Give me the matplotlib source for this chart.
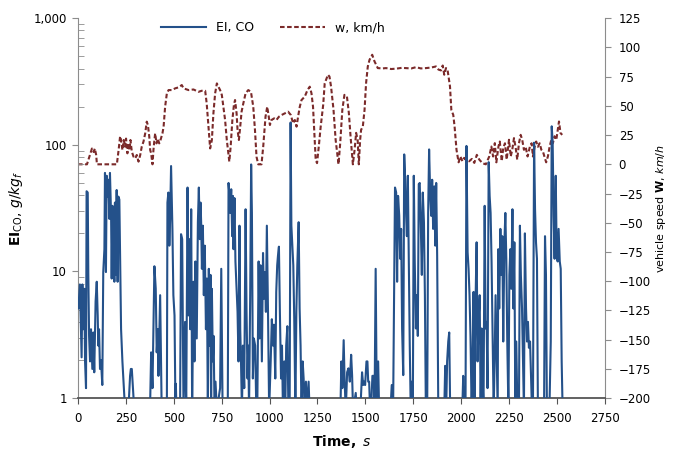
import matplotlib

matplotlib.use("Agg")
import matplotlib.pyplot as plt
from matplotlib.lines import Line2D
from matplotlib.ticker import FixedLocator, FuncFormatter, LogLocator, NullFormatter

# EI of CO, g/kg fuel, as (time s, value); values under 1 sit below the log axis
co_points = [
    (0, 6.0), (2, 5.1), (10, 7.9), (19, 2.1), (23, 7.9), (28, 3.5), (33, 7.3), (37, 1.95),
    (42, 1.2), (45, 43), (51, 42), (54, 9.4), (58, 3.1), (63, 1.95), (68, 3.5), (75, 1.7),
    (80, 3.3), (85, 1.6), (92, 5.8), (98, 8.3), (103, 4.5), (106, 2.6), (110, 3.5), (115, 1.7),
    (120, 2.0), (127, 1.27), (132, 9.9), (138, 15), (141, 60), (146, 9.9), (150, 57), (155, 39),
    (159, 53), (164, 26), (167, 60), (173, 27), (176, 8.8), (180, 33), (185, 18), (190, 8.3),
    (193, 35), (197, 9.4), (202, 44), (207, 8.3), (211, 39), (216, 37), (220, 13), (225, 3.5),
    (232, 1.95), (237, 1.43), (246, 0.8), (263, 0.8), (272, 1.5), (276, 1.7), (281, 1.7),
    (294, 0.8), (376, 0.8), (382, 2.3), (389, 1.2), (399, 11), (406, 7.3), (411, 2.3),
    (417, 3.5), (420, 1.5), (429, 6.5), (437, 0.8),
    (464, 0.8), (467, 35), (472, 42), (477, 16), (481, 26), (486, 68), (493, 21.7), (498, 6.5),
    (504, 4.5), (509, 0.8), (511, 1.3), (514, 0.8), (533, 0.8), (538, 19.7), (544, 18),
    (551, 0.8), (559, 4.0), (565, 0.8), (572, 46), (577, 4.5), (582, 18), (586, 3.5), (591, 31),
    (596, 0.8), (603, 8.3), (608, 1.95), (613, 12), (620, 2.96), (626, 24.5), (631, 46),
    (636, 18), (640, 35), (643, 24.5), (647, 10.5), (652, 23), (657, 6.5), (662, 16), (668, 3.5),
    (673, 8.8), (678, 0.8), (683, 10.5), (688, 2.6), (692, 9.4), (695, 0.8), (699, 7.3),
    (704, 1.95), (708, 3.1), (713, 0.8), (718, 1.35), (725, 0.8), (742, 1.2), (748, 10.5),
    (755, 0.8), (782, 0.8), (786, 50), (791, 39.5), (795, 29), (800, 44.6), (805, 19),
    (809, 39.5), (812, 15), (817, 38), (822, 12), (828, 7.3), (833, 4.8), (838, 1.95),
    (843, 23), (847, 3.5), (851, 1.95), (856, 0.8), (861, 2.6), (868, 1.2), (875, 31),
    (880, 4.8), (885, 1.43), (889, 2.6), (893, 0.8), (899, 6.5), (904, 70), (908, 29),
    (913, 1.43), (918, 2.96), (925, 2.6), (931, 0.8), (936, 0.8), (943, 12), (948, 2.96),
    (953, 11.2), (960, 1.95), (966, 14), (971, 6.1), (976, 9.9), (981, 4.8), (986, 23),
    (992, 4.8), (998, 0.8), (1006, 1.95), (1012, 4.2), (1018, 2.6), (1023, 3.8), (1030, 1.43),
    (1035, 6.9), (1040, 11.2), (1044, 13.3), (1049, 15.7), (1054, 4.8), (1060, 1.43),
    (1065, 2.6), (1070, 0.8), (1077, 1.95), (1082, 0.8), (1087, 2.6), (1093, 3.7), (1098, 0.9),
    (1105, 0.8), (1110, 150), (1114, 23), (1119, 16), (1124, 11.2), (1129, 4.2), (1135, 0.8),
    (1140, 4.8), (1145, 11.2), (1152, 24.5), (1157, 5.1), (1162, 2.6), (1167, 0.8), (1173, 1.95),
    (1178, 1.43), (1183, 0.8), (1190, 1.35), (1197, 0.8), (1204, 1.35), (1209, 0.8),
    (1370, 0.8), (1375, 1.95), (1380, 1.2), (1387, 2.87), (1392, 1.35), (1398, 0.8), (1405, 1.6),
    (1412, 1.72), (1419, 1.35), (1426, 2.2), (1431, 1.52), (1436, 0.8), (1450, 1.1), (1455, 0.8),
    (1474, 0.8), (1483, 1.6), (1489, 1.27), (1494, 1.35), (1499, 1.27), (1506, 1.95),
    (1511, 1.95), (1515, 1.35), (1520, 1.35), (1525, 0.8), (1530, 0.8), (1537, 1.5), (1544, 1.5),
    (1548, 0.8), (1554, 10.5), (1560, 0.8), (1567, 1.95), (1572, 0.8),
    (1631, 0.8), (1638, 1.27), (1645, 0.8), (1655, 46), (1661, 42), (1666, 8.3), (1671, 39.5),
    (1677, 27.5), (1682, 12.6), (1687, 21.7), (1692, 3.55), (1698, 1.52), (1703, 84), (1708, 53),
    (1713, 27.5), (1717, 19), (1722, 57), (1727, 12), (1732, 2.6), (1737, 0.8), (1743, 1.35),
    (1748, 0.8), (1753, 57), (1758, 12), (1764, 3.55), (1769, 6.5), (1774, 3.1), (1779, 49),
    (1784, 50), (1790, 21.7), (1795, 9.4), (1800, 42), (1806, 24.5), (1811, 6.5), (1816, 0.8),
    (1823, 0.8), (1828, 29), (1833, 92), (1839, 39.5), (1844, 27.5), (1849, 53), (1854, 21.7),
    (1860, 47), (1865, 16), (1870, 50), (1875, 13.3), (1881, 0.8),
    (1912, 0.8), (1917, 1.8), (1922, 0.8), (1927, 1.95), (1933, 2.8), (1938, 3.3), (1943, 0.8),
    (2006, 0.8), (2011, 1.5), (2016, 0.8),
    (2023, 0.8), (2028, 98), (2034, 14.2), (2039, 10.5), (2044, 6.5), (2049, 3.1), (2055, 0.8),
    (2060, 1.95), (2065, 6.9), (2070, 0.8), (2076, 6.5), (2081, 17), (2086, 1.95), (2091, 4.0),
    (2097, 6.5), (2102, 0.8), (2107, 3.55), (2112, 1.43), (2117, 0.8), (2123, 33), (2128, 3.55),
    (2133, 4.0), (2138, 1.2), (2144, 73), (2149, 39.5), (2154, 29), (2159, 12), (2164, 3.55),
    (2170, 0.8), (2175, 1.95), (2180, 6.5), (2185, 2.6), (2191, 0.8), (2194, 15), (2199, 5.1),
    (2205, 21.7), (2210, 9.4), (2215, 19), (2220, 2.8), (2226, 17), (2231, 29), (2236, 12.6),
    (2241, 2.8), (2247, 0.8), (2252, 9.4), (2257, 15), (2262, 7.3), (2268, 31), (2273, 5.1),
    (2278, 17), (2283, 0.8), (2288, 2.8), (2294, 0.8), (2302, 0.8), (2307, 23), (2312, 9.4),
    (2318, 5.1), (2323, 2.06), (2328, 0.8), (2333, 20), (2339, 5.1), (2344, 2.8), (2349, 4.0),
    (2354, 2.5), (2360, 2.8), (2365, 1.52), (2370, 0.8), (2375, 0.8), (2381, 104), (2386, 31),
    (2391, 17), (2396, 12.6), (2401, 0.8), (2433, 0.8), (2438, 19), (2443, 9.4), (2448, 0.8),
    (2461, 0.8), (2468, 2.8), (2473, 140), (2478, 104), (2483, 27.5), (2488, 12.6), (2494, 57),
    (2499, 13.3), (2504, 12), (2509, 21.7), (2515, 12), (2520, 10.5), (2525, 1.95), (2530, 0.8),
]

# vehicle speed w, km/h, as (time s, value)
speed_points = [
    (0, 0), (47, 0), (64, 9), (73, 13.5), (82, 10.5), (88, 13.5), (95, 8), (99, 0), (203, 0),
    (212, 12), (220, 24), (225, 20.8), (232, 12.2), (239, 20.8), (246, 15.1), (251, 22),
    (258, 9.4), (264, 18), (269, 12.2), (274, 20.8), (281, 10.9), (290, 6.5), (299, 5), (307, 8),
    (316, 2.3), (325, 8), (333, 15.1), (342, 19.4), (351, 26.5), (359, 36.5), (365, 33.6),
    (372, 24), (377, 12.2), (382, 9.4), (389, 0), (394, 12.2), (399, 20.8), (403, 26.5),
    (410, 17.9), (417, 22), (424, 17.9), (431, 20.8), (441, 26.5), (447, 32.2), (455, 49.3),
    (464, 60.7), (473, 63.5), (490, 63.5), (508, 65), (525, 65.8), (542, 67.8), (551, 65),
    (577, 63.5), (603, 64), (629, 62), (646, 62.9), (664, 62.9), (672, 52), (681, 32.2),
    (690, 13.6), (699, 20.8), (707, 43.6), (716, 60.7), (725, 69.2), (733, 66.4), (742, 63.5),
    (751, 59.3), (759, 49.3), (768, 37.9), (777, 20.8), (785, 9.4), (790, 2.3), (797, 15.1),
    (806, 37.9), (814, 50.7), (820, 55), (828, 43.6), (833, 29.3), (840, 20.8), (847, 32.2),
    (854, 45), (863, 52), (875, 60.7), (889, 63.5), (903, 62), (915, 49.3), (924, 29.3),
    (932, 6.5), (941, 0), (958, 0), (967, 15.1), (979, 40.7), (988, 49.3), (996, 40.7),
    (1002, 33.6), (1010, 37.9), (1024, 39.3), (1036, 37.9), (1049, 40.7), (1063, 42.2),
    (1080, 43.6), (1097, 45), (1111, 42.2), (1123, 35), (1132, 37.9), (1141, 32.2), (1149, 40.7),
    (1158, 49.3), (1167, 55), (1184, 57.9), (1198, 63.5), (1210, 66.4), (1219, 60.7),
    (1227, 49.3), (1236, 20.8), (1241, 3.7), (1248, 1), (1257, 15.1), (1267, 32.2), (1280, 50.7),
    (1288, 69.2), (1305, 76.6), (1313, 75), (1321, 66.6), (1334, 46.6), (1345, 21), (1357, 3.8),
    (1360, 0), (1369, 18.3), (1380, 46.6), (1391, 59.4), (1404, 58), (1414, 44), (1423, 23.8),
    (1435, 0), (1444, 12.4), (1452, 26.9), (1460, 21), (1466, 0), (1473, 21), (1478, 29.5),
    (1487, 32.3), (1496, 46.6), (1504, 69.5), (1513, 83.7), (1522, 89.4), (1536, 93.7),
    (1548, 88), (1565, 82.3), (1590, 82), (1608, 82.3), (1635, 81.5), (1661, 81.8), (1690, 82.5),
    (1713, 82.3), (1740, 82), (1765, 83.1), (1790, 82), (1817, 82.3), (1845, 82.8), (1869, 83.7),
    (1882, 81), (1895, 80.3), (1904, 84.5), (1912, 76.6), (1921, 82.3), (1929, 81), (1942, 66.6),
    (1949, 46.6), (1959, 42.3), (1966, 32.3), (1976, 12.4), (1987, 1.7), (1996, 6.7),
    (2007, 2.6), (2016, 5.5), (2024, 4), (2042, 2.6), (2056, 4.6), (2069, 1.2), (2082, 8.1),
    (2095, 4), (2112, 0.9), (2129, 0), (2147, 6.7), (2158, 15.2), (2167, 6.7), (2176, 18.1),
    (2184, 1.7), (2195, 15.2), (2202, 19.5), (2212, 2.6), (2220, 14), (2229, 18), (2238, 4),
    (2250, 21), (2259, 6.7), (2267, 12.4), (2276, 22.4), (2285, 14), (2293, 4), (2302, 18),
    (2311, 25.2), (2319, 21), (2328, 12.4), (2337, 15), (2347, 6.7), (2359, 15), (2368, 18),
    (2375, 6.7), (2384, 15), (2392, 19.5), (2401, 15), (2410, 18), (2419, 12.4), (2427, 11),
    (2437, 5.5), (2444, 1.7), (2453, 6.7), (2462, 15), (2471, 21), (2479, 18), (2488, 24),
    (2497, 21), (2506, 31), (2511, 36.6), (2519, 26.7), (2528, 25.2),
]

x_ticks = list(range(0, 2751, 250))
left_ticks = [1, 10, 100, 1000]
right_ticks = list(range(-200, 126, 25))

BLUE = "#24518a"
RED = "#7b2a2a"
AXIS_GRAY = "#8c8c8c"


def main() -> None:
    plt.rcParams.update({"font.family": "DejaVu Sans", "font.size": 8.5, "mathtext.fontset": "dejavusans"})
    fig = plt.figure(figsize=(6.78, 4.54), dpi=100)
    ax = fig.add_axes([0.115, 0.123, 0.777, 0.837])
    ax2 = ax.twinx()

    co_t, co_v = zip(*co_points)
    sp_t, sp_v = zip(*speed_points)

    ax.plot(co_t, co_v, color=BLUE, linewidth=1.5, zorder=3)
    ax2.plot(sp_t, sp_v, color=RED, linewidth=1.5, linestyle=(0, (2.2, 1.2)), zorder=2)
    ax.set_zorder(ax2.get_zorder() + 1)
    ax.patch.set_visible(False)

    ax.set_yscale("log")
    ax.set_ylim(1, 1000)
    ax.set_xlim(0, 2750)
    ax.xaxis.set_major_locator(FixedLocator(x_ticks))
    ax.yaxis.set_major_locator(FixedLocator(left_ticks))
    ax.yaxis.set_major_formatter(FuncFormatter(lambda v, _: f"{v:,.0f}"))
    ax.yaxis.set_minor_locator(LogLocator(base=10, subs=range(2, 10)))
    ax.yaxis.set_minor_formatter(NullFormatter())

    ax2.set_ylim(-200, 125)
    ax2.yaxis.set_major_locator(FixedLocator(right_ticks))

    ax.spines["top"].set_visible(False)
    ax2.spines["top"].set_visible(False)
    ax2.spines["left"].set_visible(False)
    ax2.spines["bottom"].set_visible(False)
    ax.spines["right"].set_visible(False)
    ax.spines["left"].set_color(AXIS_GRAY)
    ax.spines["bottom"].set_color("#555555")
    ax.spines["bottom"].set_linewidth(1.3)
    ax2.spines["right"].set_color(AXIS_GRAY)

    ax.tick_params(axis="x", direction="out", length=4, color="#555555", pad=6)
    ax.tick_params(axis="y", which="major", direction="out", length=4, color=AXIS_GRAY, pad=4)
    ax.tick_params(axis="y", which="minor", direction="in", length=4, color=AXIS_GRAY)
    ax2.tick_params(axis="y", direction="out", length=4, color=AXIS_GRAY, pad=6)

    ax.set_xlabel(r"$\mathbf{Time,}$ $\mathit{s}$", fontsize=10, labelpad=6)
    ax.set_ylabel(r"$\mathbf{EI}_{\mathrm{CO}}$, $\mathit{g/kg_f}$", fontsize=10, labelpad=6)
    ax2.set_ylabel(r"vehicle speed $\mathbf{W}$, $\mathit{km/h}$", fontsize=8, labelpad=2)

    handles = [
        Line2D([], [], color=BLUE, linewidth=1.5),
        Line2D([], [], color=RED, linewidth=1.5, linestyle=(0, (2.2, 1.2))),
    ]
    ax.legend(handles, ["EI, CO", "w, km/h"], loc="center", bbox_to_anchor=(0.37, 0.975),
              ncol=2, frameon=False, handlelength=3.6, columnspacing=2.0, fontsize=9)

    fig.savefig("out.png", dpi=100)
    plt.close(fig)


if __name__ == "__main__":
    main()
